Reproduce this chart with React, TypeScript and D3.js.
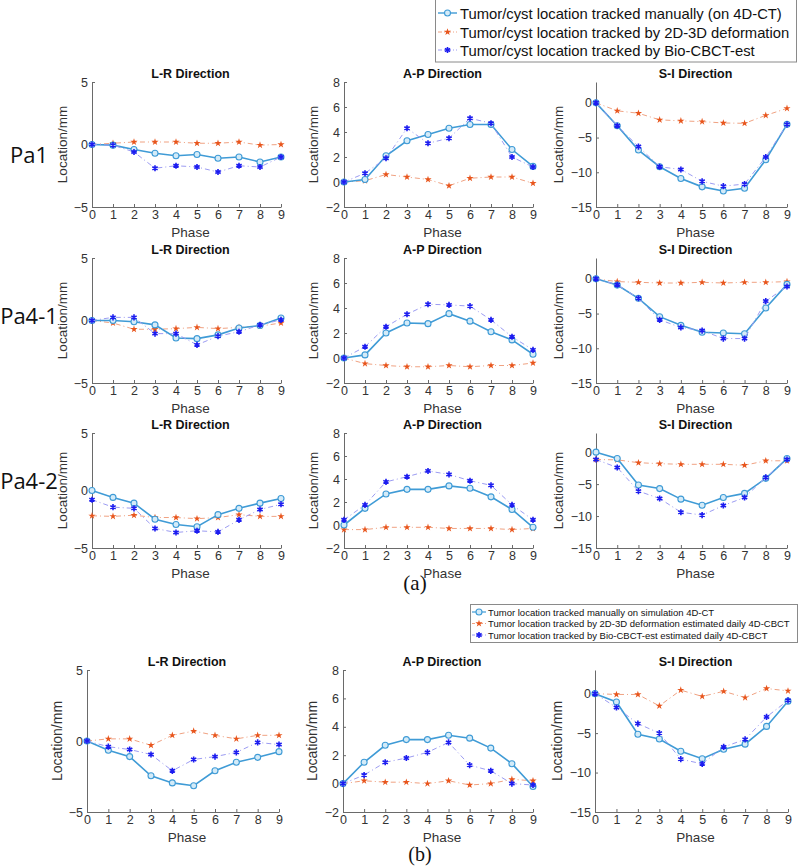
import React, { useEffect, useRef } from 'react'
import * as d3 from 'd3'

const phases = [0, 1, 2, 3, 4, 5, 6, 7, 8, 9]

// (a) Pa1
const pa1LrManual = [0, -0.05, -0.4, -0.7, -0.9, -0.8, -1.1, -1.0, -1.4, -1.0]
const pa1LrDeform = [0, 0.1, 0.2, 0.2, 0.2, 0.1, 0.1, 0.2, -0.05, 0.0]
const pa1LrBio = [0, -0.05, -0.6, -1.9, -1.7, -1.8, -2.2, -1.7, -1.8, -1.0]
const pa1ApManual = [0, 0.2, 2.1, 3.3, 3.8, 4.3, 4.6, 4.6, 2.6, 1.25]
const pa1ApDeform = [0, 0.1, 0.6, 0.4, 0.2, -0.3, 0.3, 0.4, 0.4, -0.1]
const pa1ApBio = [0, 0.7, 1.9, 4.3, 3.1, 3.5, 5.1, 4.7, 2.0, 1.2]
const pa1SiManual = [0, -3.3, -6.8, -9.2, -10.9, -12.1, -12.7, -12.3, -8.2, -3.1]
const pa1SiDeform = [0, -1.15, -1.5, -2.45, -2.6, -2.7, -2.9, -2.95, -1.8, -0.8]
const pa1SiBio = [0, -3.3, -6.3, -9.2, -9.6, -11.3, -12.0, -11.7, -7.8, -3.1]

// (a) Pa4-1
const pa41LrManual = [0, 0, -0.1, -0.35, -1.4, -1.45, -1.15, -0.6, -0.4, 0.2]
const pa41LrDeform = [0, -0.2, -0.7, -0.7, -0.65, -0.55, -0.65, -0.55, -0.45, -0.2]
const pa41LrBio = [0, 0.25, 0.25, -1.05, -1.05, -1.95, -1.25, -0.9, -0.35, 0.05]
const pa41ApManual = [0, 0.25, 2.0, 2.8, 2.75, 3.55, 2.95, 2.1, 1.45, 0.3]
const pa41ApDeform = [0, -0.45, -0.6, -0.7, -0.7, -0.6, -0.7, -0.6, -0.6, -0.4]
const pa41ApBio = [0, 0.9, 2.5, 3.5, 4.3, 4.25, 4.15, 3.05, 1.7, 0.65]
const pa41SiManual = [0, -0.9, -2.8, -5.45, -6.7, -7.7, -7.8, -7.9, -4.2, -0.8]
const pa41SiDeform = [0, -0.4, -0.5, -0.6, -0.6, -0.5, -0.6, -0.5, -0.5, -0.4]
const pa41SiBio = [0, -0.85, -2.8, -5.9, -7.0, -7.45, -8.6, -8.6, -3.2, -1.1]

// (a) Pa4-2
const pa42LrManual = [0, -0.6, -1.1, -2.5, -2.95, -3.15, -2.1, -1.55, -1.1, -0.7]
const pa42LrDeform = [-2.2, -2.25, -2.15, -2.35, -2.35, -2.45, -2.35, -2.1, -2.25, -2.25]
const pa42LrBio = [-0.8, -1.45, -1.55, -3.3, -3.65, -3.5, -3.6, -2.55, -1.65, -1.2]
const pa42ApManual = [0, 1.45, 2.7, 3.1, 3.1, 3.4, 3.2, 2.45, 1.35, -0.2]
const pa42ApDeform = [-0.4, -0.4, -0.2, -0.2, -0.2, -0.3, -0.3, -0.3, -0.4, -0.3]
const pa42ApBio = [0.45, 1.75, 3.75, 4.2, 4.7, 4.4, 3.85, 3.45, 1.75, 0.45]
const pa42SiManual = [0, -1.0, -5.15, -5.7, -7.35, -8.3, -7.1, -6.45, -4.1, -1.0]
const pa42SiDeform = [-1.15, -1.2, -1.65, -1.8, -1.9, -1.9, -1.9, -2.05, -1.35, -1.35]
const pa42SiBio = [-1.15, -2.4, -6.1, -7.25, -9.4, -9.85, -8.35, -7.1, -3.95, -1.15]

// (b) simulation
const simLrManual = [0, -0.65, -1.1, -2.45, -2.95, -3.15, -2.1, -1.5, -1.15, -0.75]
const simLrDeform = [0, 0.15, 0.15, -0.3, 0.4, 0.7, 0.4, 0.15, 0.4, 0.4]
const simLrBio = [0, -0.4, -0.6, -0.95, -2.1, -1.3, -1.1, -0.8, -0.1, -0.25]
const simApManual = [0, 1.5, 2.7, 3.1, 3.1, 3.4, 3.2, 2.5, 1.4, -0.2]
const simApDeform = [0, 0.2, 0.1, 0.1, 0, 0.2, -0.1, 0, 0.3, 0.2]
const simApBio = [0, 0.6, 1.5, 1.8, 2.2, 2.9, 1.3, 0.9, 0, -0.1]
const simSiManual = [0, -1.05, -5.15, -5.75, -7.3, -8.25, -7.05, -6.4, -4.15, -0.95]
const simSiDeform = [0, -0.1, -0.1, -1.55, 0.45, -0.35, 0.3, -0.5, 0.65, 0.35]
const simSiBio = [0, -1.75, -3.8, -5.0, -8.3, -8.9, -6.75, -5.8, -2.95, -0.85]

const directions = ['L-R Direction', 'A-P Direction', 'S-I Direction']
const patients = ['Pa1', 'Pa4-1', 'Pa4-2']
const lrTicks = [-5, 0, 5]
const apTicks = [-2, 0, 2, 4, 6, 8]
const siTicks = [-15, -10, -5, 0]
const legendTop = [
  'Tumor/cyst location tracked manually (on 4D-CT)',
  'Tumor/cyst location tracked by 2D-3D deformation',
  'Tumor/cyst location tracked by Bio-CBCT-est',
]
const legendBottom = [
  'Tumor location tracked manually on simulation 4D-CT',
  'Tumor location tracked by 2D-3D deformation estimated daily 4D-CBCT',
  'Tumor location tracked by Bio-CBCT-est estimated daily 4D-CBCT',
]

const FONT = '"Liberation Sans", Arial, sans-serif'
const C_MANUAL = '#3f9bd6'
const C_DEFORM = '#e8551c'
const C_DEFORM_LINE = '#f0a282'
const C_BIO = '#1c1cf0'
const C_BIO_LINE = '#9c9cf2'

const rowData = [
  [[pa1LrManual, pa1LrDeform, pa1LrBio], [pa1ApManual, pa1ApDeform, pa1ApBio], [pa1SiManual, pa1SiDeform, pa1SiBio]],
  [[pa41LrManual, pa41LrDeform, pa41LrBio], [pa41ApManual, pa41ApDeform, pa41ApBio], [pa41SiManual, pa41SiDeform, pa41SiBio]],
  [[pa42LrManual, pa42LrDeform, pa42LrBio], [pa42ApManual, pa42ApDeform, pa42ApBio], [pa42SiManual, pa42SiDeform, pa42SiBio]],
  [[simLrManual, simLrDeform, simLrBio], [simApManual, simApDeform, simApBio], [simSiManual, simSiDeform, simSiBio]],
]

const App = () => {
  const ref = useRef(null)

  useEffect(() => {
    const svg = d3.select(ref.current)
    svg.selectAll('*').remove()

    const rows = [
      { top: 82, bottom: 207 },
      { top: 258, bottom: 383 },
      { top: 433, bottom: 548 },
      { top: 670, bottom: 812 },
    ]
    const colsA = [{ l: 92, r: 281 }, { l: 344, r: 533 }, { l: 596, r: 787 }]
    const colsB = [{ l: 87, r: 279 }, { l: 343, r: 533 }, { l: 595, r: 788 }]
    const domains = [[-5, 5], [-2, 8], [-15, 3]]
    const ticks = [lrTicks, apTicks, siTicks]
    const labelOffset = [20, 21, 28]

    const drawMarker = (g, kind, x, y) => {
      if (kind === 0) {
        g.append('circle').attr('cx', x).attr('cy', y).attr('r', 3)
          .attr('fill', '#d4ebf8').attr('stroke', C_MANUAL).attr('stroke-width', 1.1)
      } else if (kind === 1) {
        g.append('path').attr('transform', `translate(${x},${y})`)
          .attr('d', d3.symbol(d3.symbolStar, 16)()).attr('fill', C_DEFORM)
      } else {
        g.append('path').attr('transform', `translate(${x},${y})`)
          .attr('d', d3.symbol(d3.symbolAsterisk, 26)())
          .attr('fill', 'none').attr('stroke', C_BIO).attr('stroke-width', 1.6)
      }
    }

    rows.forEach((row, ri) => {
      const cols = ri === 3 ? colsB : colsA
      cols.forEach((col, ci) => {
        const g = svg.append('g')
        const x = d3.scaleLinear().domain([0, 9]).range([col.l, col.r])
        const y = d3.scaleLinear().domain(domains[ci]).range([row.bottom, row.top])

        const yAxis = g.append('g')
          .attr('transform', `translate(${col.l},0)`)
          .call(d3.axisLeft(y).tickValues(ticks[ci]).tickSizeInner(-3).tickSizeOuter(0).tickPadding(4))
        const xAxis = g.append('g')
          .attr('transform', `translate(0,${row.bottom})`)
          .call(d3.axisBottom(x).tickValues(phases).tickSizeInner(-3).tickSizeOuter(0).tickPadding(3))
        ;[yAxis, xAxis].forEach(a => {
          a.selectAll('path, line').attr('stroke', '#6a6a6a')
          a.selectAll('text').attr('fill', '#333').style('font-family', FONT).style('font-size', '12.5px')
        })

        g.append('text')
          .attr('x', (col.l + col.r) / 2 + 4).attr('y', row.top - 4)
          .attr('text-anchor', 'middle').style('font-family', FONT).style('font-size', '12.5px')
          .style('font-weight', 'bold').attr('fill', '#111').text(directions[ci])
        g.append('text')
          .attr('x', (col.l + col.r) / 2 + 4).attr('y', row.bottom + 30)
          .attr('text-anchor', 'middle').style('font-family', FONT).style('font-size', '13.5px')
          .attr('fill', '#333').text('Phase')
        g.append('text')
          .attr('transform', `translate(${col.l - labelOffset[ci] - 5},${(row.top + row.bottom) / 2}) rotate(-90)`)
          .attr('text-anchor', 'middle').style('font-family', FONT).style('font-size', ri === 3 ? '14px' : '13.5px')
          .attr('fill', '#333').text('Location/mm')

        const series = rowData[ri][ci]
        const order = [1, 0, 2]
        order.forEach(k => {
          const vals = series[k]
          const line = d3.line().x((d, i) => x(phases[i])).y(d => y(d))
          const p = g.append('path').attr('d', line(vals)).attr('fill', 'none')
          if (k === 0) p.attr('stroke', C_MANUAL).attr('stroke-width', 1.6)
          else if (k === 1) p.attr('stroke', C_DEFORM_LINE).attr('stroke-width', 1).attr('stroke-dasharray', '5,3,1,3')
          else p.attr('stroke', C_BIO_LINE).attr('stroke-width', 1).attr('stroke-dasharray', '5,3,1,3')
          vals.forEach((v, i) => drawMarker(g, k, x(phases[i]), y(v)))
        })
      })
    })

    // patient labels
    const paY = [155, 316, 481]
    patients.forEach((p, i) => {
      svg.append('text').attr('x', 29).attr('y', paY[i] + 8).attr('text-anchor', 'middle')
        .style('font-family', '"Open Sans", "Noto Sans", sans-serif').style('font-size', '22px')
        .attr('fill', '#111').text(p)
    })

    // top legend
    const lt = svg.append('g')
    lt.append('rect').attr('x', 435.5).attr('y', -1).attr('width', 361).attr('height', 63)
      .attr('fill', '#fff').attr('stroke', '#8a8a8a')
    const ltY = [13, 32, 50]
    legendTop.forEach((t, i) => {
      const ln = lt.append('line').attr('x1', 438).attr('x2', 457).attr('y1', ltY[i]).attr('y2', ltY[i])
      if (i === 0) ln.attr('stroke', C_MANUAL).attr('stroke-width', 1.4)
      else ln.attr('stroke', i === 1 ? C_DEFORM_LINE : C_BIO_LINE).attr('stroke-dasharray', '4,2,1,2')
      drawMarker(lt, i, 447.5, ltY[i])
      lt.append('text').attr('x', 460).attr('y', ltY[i] + 5.5)
        .style('font-family', FONT).style('font-size', '14.8px').attr('fill', '#111').text(t)
    })

    // bottom legend
    const lb = svg.append('g')
    lb.append('rect').attr('x', 470.5).attr('y', 604.5).attr('width', 327).attr('height', 38)
      .attr('fill', '#fff').attr('stroke', '#8a8a8a')
    const lbY = [612, 623.5, 635]
    legendBottom.forEach((t, i) => {
      const ln = lb.append('line').attr('x1', 472).attr('x2', 486).attr('y1', lbY[i]).attr('y2', lbY[i])
      if (i === 0) ln.attr('stroke', C_MANUAL).attr('stroke-width', 1.2)
      else ln.attr('stroke', i === 1 ? C_DEFORM_LINE : C_BIO_LINE).attr('stroke-dasharray', '3,2,1,2')
      drawMarker(lb, i, 479, lbY[i])
      lb.append('text').attr('x', 488).attr('y', lbY[i] + 3.5)
        .style('font-family', FONT).style('font-size', '9.5px').attr('fill', '#111').text(t)
    })

    svg.append('text').attr('x', 415).attr('y', 590).attr('text-anchor', 'middle')
      .style('font-family', '"Liberation Serif", "Times New Roman", serif').style('font-size', '21px')
      .attr('fill', '#111').text('(a)')
    svg.append('text').attr('x', 420).attr('y', 861).attr('text-anchor', 'middle')
      .style('font-family', '"Liberation Serif", "Times New Roman", serif').style('font-size', '20px')
      .attr('fill', '#111').text('(b)')
  }, [])

  return (
    <svg ref={ref} width={800} height={868}
      style={{ position: 'absolute', left: 0, top: 0, background: '#fff' }}></svg>
  )
}

export default App
